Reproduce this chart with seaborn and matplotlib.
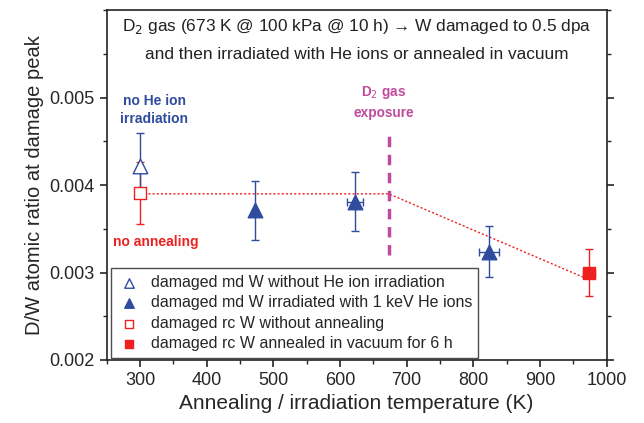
import numpy as np
import pandas as pd
import matplotlib
matplotlib.use("Agg")
import matplotlib.pyplot as plt
import seaborn as sns
from matplotlib.ticker import MultipleLocator, FormatStrFormatter

sns.set_style("ticks")
plt.rcParams['font.family'] = ['Liberation Sans', 'DejaVu Sans']

# data
md_open_T = [300]
md_open_y = [0.00422]
md_open_err = [0.00037]

md_fill_T = [473, 623, 823]
md_fill_y = [0.00371, 0.00381, 0.00324]
md_fill_err = [0.00034, 0.00034, 0.00029]
md_fill_xerr = [0, 12, 15]

rc_open_T = [300]
rc_open_y = [0.00391]
rc_open_err = [0.00035]

rc_fill_T = [973]
rc_fill_y = [0.00300]
rc_fill_err = [0.00027]
rc_fill_xerr = [9]

trend_T = [300, 673, 973]
trend_y = [0.0039, 0.0039, 0.00292]

blue = '#2F4C9F'
red = '#EE2020'
magenta = '#C04A9E'

fig = plt.figure(figsize=(6.44, 4.23), dpi=100)
ax = fig.add_axes([0.1657, 0.149, 0.7763, 0.827])

# trend line
sns.lineplot(x=trend_T, y=trend_y, ax=ax, color=red, linestyle=(0, (1.5, 1.5)), lw=1, zorder=1)

# vertical exposure line
ax.plot([673, 673], [0.0032, 0.0046], color=magenta, lw=2.5, linestyle=(0, (3, 2.2)), zorder=1)

# error bars
ax.errorbar(rc_open_T, rc_open_y, yerr=rc_open_err, fmt='none', ecolor=red, elinewidth=1, capsize=3, zorder=2)
ax.errorbar(md_open_T, md_open_y, yerr=md_open_err, fmt='none', ecolor=blue, elinewidth=1, capsize=3, zorder=2)
ax.errorbar(md_fill_T, md_fill_y, yerr=md_fill_err, xerr=md_fill_xerr, fmt='none', ecolor=blue, elinewidth=1, capsize=3, zorder=2)
ax.errorbar(rc_fill_T, rc_fill_y, yerr=rc_fill_err, xerr=rc_fill_xerr, fmt='none', ecolor=red, elinewidth=1, capsize=3, zorder=2)

# markers
sns.scatterplot(x=md_open_T, y=md_open_y, ax=ax, marker='^', s=110, facecolor='white', edgecolor=blue, linewidth=1, zorder=3,
                label='damaged md W without He ion irradiation')
sns.scatterplot(x=md_fill_T, y=md_fill_y, ax=ax, marker='^', s=110, color=blue, edgecolor=blue, linewidth=1, zorder=3,
                label='damaged md W irradiated with 1 keV He ions')
sns.scatterplot(x=rc_open_T, y=rc_open_y, ax=ax, marker='s', s=70, facecolor='white', edgecolor=red, linewidth=1, zorder=3,
                label='damaged rc W without annealing')
sns.scatterplot(x=rc_fill_T, y=rc_fill_y, ax=ax, marker='s', s=70, color=red, edgecolor=red, linewidth=1, zorder=3,
                label='damaged rc W annealed in vacuum for 6 h')

ax.set_xlim(250, 1000)
ax.set_ylim(0.002, 0.006)
ax.xaxis.set_major_locator(MultipleLocator(100))
ax.xaxis.set_minor_locator(MultipleLocator(50))
ax.yaxis.set_major_locator(MultipleLocator(0.001))
ax.yaxis.set_minor_locator(MultipleLocator(0.0005))
ax.yaxis.set_major_formatter(FormatStrFormatter('%.3f'))
ax.set_yticks([0.002, 0.003, 0.004, 0.005])
ax.tick_params(which='both', direction='out', top=True, right=True, labeltop=False, labelright=False)
ax.tick_params(which='major', length=5, width=1.2, labelsize=13)
ax.tick_params(which='minor', length=3, width=1)
ax.tick_params(axis='x', which='both', top=False)
for s in ax.spines.values():
    s.set_linewidth(1.2)
    s.set_color('#222222')

ax.set_xlabel('Annealing / irradiation temperature (K)', fontsize=15)
ax.set_ylabel('D/W atomic ratio at damage peak', fontsize=14.5)

ax.text(0.5, 0.953, 'D$_2$ gas (673 K @ 100 kPa @ 10 h) \u2192 W damaged to 0.5 dpa',
        transform=ax.transAxes, ha='center', va='center', fontsize=12.4, color='#222222')
ax.text(0.5, 0.873, 'and then irradiated with He ions or annealed in vacuum',
        transform=ax.transAxes, ha='center', va='center', fontsize=12.4, color='#222222')

ax.text(321, 0.00486, 'no He ion\nirradiation', ha='center', va='center', color=blue,
        fontsize=10, fontweight='bold', linespacing=1.35)
ax.text(666, 0.00495, 'D$_2$ gas\nexposure', ha='center', va='center', color=magenta,
        fontsize=9.8, fontweight='bold', linespacing=1.45)
ax.text(323, 0.00335, 'no annealing', ha='center', va='center', color=red,
        fontsize=10, fontweight='bold')

leg = ax.legend(loc='lower left', fontsize=11.5, frameon=True, fancybox=False, edgecolor='#222222',
                borderpad=0.4, labelspacing=0.35, handlelength=1.5, handletextpad=0.6,
                markerscale=0.65, bbox_to_anchor=(0.008, 0.006), borderaxespad=0)
leg.get_frame().set_linewidth(1)

fig.savefig('out.png', dpi=100)
